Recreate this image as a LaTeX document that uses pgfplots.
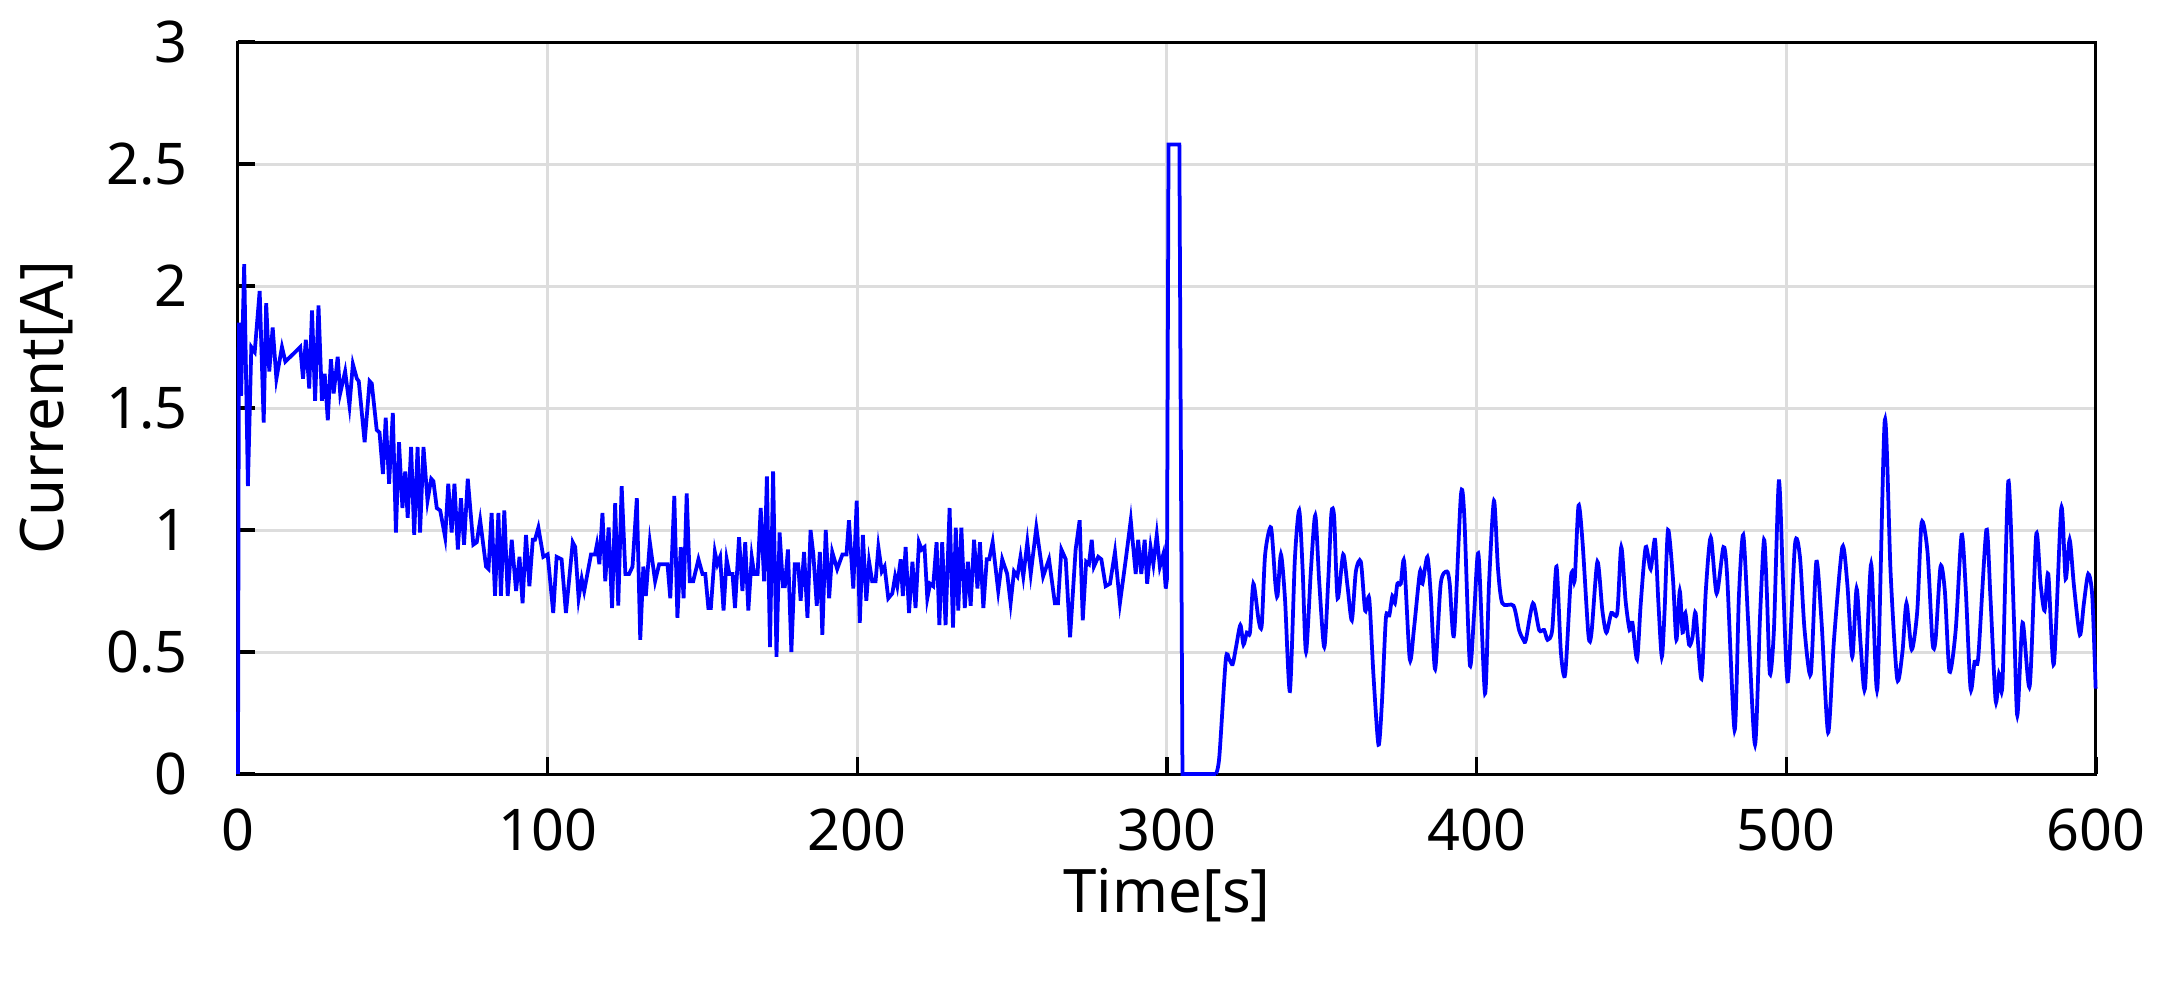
\documentclass[border=0pt]{standalone}
\usepackage{fontspec}
\setmainfont{Noto Sans}
\usepackage{pgfplots}
\pgfplotsset{compat=1.18}
\definecolor{gridgray}{RGB}{221,221,221}
\definecolor{trace}{RGB}{0,0,255}
\begin{document}
\begin{tikzpicture}
\useasboundingbox (-47.6pt,-41.6pt) rectangle (384.4pt,154.8pt);
\begin{axis}[
  scale only axis, width=371.6pt, height=146.4pt,
  xmin=0, xmax=600, ymin=0, ymax=3,
  xtick={0,100,200,300,400,500,600},
  ytick={0,0.5,1,1.5,2,2.5,3},
  tick align=inside, tick pos=left,
  major tick length=3.5pt,
  grid=major,
  major grid style={line width=0.6pt, color=gridgray},
  axis line style={line width=0.6pt},
  major tick style={line width=0.7pt, black},
  /pgf/number format/assume math mode=true,
  tick label style={font=\fontsize{11.5}{13}\selectfont},
  yticklabel style={xshift=-6.6pt},
  xticklabel style={yshift=-3.4pt},
  xlabel={Time[s]}, ylabel={Current[A]},
  every axis x label/.style={at={(axis description cs:0.5,-0.1653)}, anchor=center, font=\fontsize{12}{14}\selectfont},
  every axis y label/.style={at={(axis description cs:-0.1033,0.5)}, anchor=center, rotate=90, font=\fontsize{12}{14}\selectfont},
  clip=false,
]
% first part: raw samples, straight segments
\addplot[trace, line width=0.75pt] table {
0 0
0.3 1.85
1.0 1.55
2.0 2.09
3.2 1.18
4.3 1.75
5.4 1.73
7.0 1.98
8.3 1.44
9.1 1.93
10.1 1.65
11.2 1.83
12.4 1.62
14.2 1.75
15.3 1.69
20.1 1.75
21.0 1.62
21.9 1.78
23.0 1.58
23.9 1.90
24.9 1.53
26.0 1.92
27.1 1.53
28.0 1.64
29.0 1.45
30.0 1.70
30.9 1.56
32.2 1.71
33.0 1.56
34.6 1.65
36.0 1.51
37.1 1.68
38.4 1.62
39.0 1.61
40.9 1.36
42.5 1.61
43.2 1.60
44.8 1.41
45.7 1.40
46.8 1.23
47.7 1.46
48.8 1.19
50.0 1.48
51.0 0.99
52.0 1.36
53.1 1.09
54.0 1.24
54.8 1.05
55.9 1.34
56.9 0.98
58.0 1.34
58.8 0.99
59.9 1.34
61.2 1.12
62.4 1.21
63.1 1.20
64.2 1.09
65.3 1.08
66.9 0.97
67.9 1.19
69.0 0.99
69.9 1.19
71.0 0.92
72.0 1.13
73.0 0.94
74.2 1.21
76.0 0.94
77.1 0.95
78.2 1.04
80.1 0.85
80.9 0.84
81.9 1.07
83.0 0.73
84.1 1.07
84.9 0.73
86.0 1.08
87.1 0.73
88.4 0.96
89.8 0.75
90.9 0.89
91.9 0.70
93.0 0.98
94.1 0.77
95.2 0.96
95.9 0.96
97.0 1.01
98.6 0.89
100.0 0.90
101.8 0.66
102.9 0.89
104.5 0.88
105.9 0.66
108.1 0.95
108.9 0.93
110.0 0.72
111.0 0.80
111.8 0.75
114.0 0.90
115.3 0.90
115.9 0.94
116.7 0.86
117.7 1.07
118.6 0.79
119.7 1.01
120.8 0.68
121.8 1.11
122.8 0.69
123.9 1.18
125.1 0.82
126.3 0.82
127.4 0.85
128.8 1.13
129.9 0.55
130.9 0.85
131.7 0.73
133.0 0.95
134.7 0.79
136.0 0.86
138.7 0.86
139.6 0.72
140.9 1.14
141.9 0.64
143.0 0.93
143.9 0.72
144.9 1.15
145.9 0.79
147.0 0.79
148.7 0.88
150.0 0.82
150.9 0.82
151.9 0.68
152.7 0.68
154.0 0.91
154.8 0.86
155.7 0.89
156.8 0.67
157.8 0.88
158.7 0.82
159.7 0.82
160.5 0.68
161.8 0.97
162.9 0.75
163.8 0.95
164.8 0.67
165.9 0.89
166.7 0.82
167.8 0.82
168.8 1.09
169.9 0.79
170.8 1.22
171.8 0.52
172.8 1.24
173.9 0.48
174.9 0.99
176.0 0.77
176.6 0.77
177.6 0.92
178.7 0.50
179.8 0.86
180.9 0.86
181.7 0.71
182.8 0.91
183.9 0.64
184.9 1.00
185.8 0.90
186.9 0.69
187.9 0.91
188.7 0.57
189.8 1.00
190.9 0.72
191.9 0.91
193.5 0.84
195.2 0.90
196.5 0.90
197.3 1.04
198.7 0.76
199.8 1.12
200.8 0.62
201.8 0.98
202.9 0.71
203.8 0.87
204.8 0.79
205.9 0.79
206.8 0.93
207.9 0.83
208.8 0.85
210.0 0.72
211.3 0.74
212.2 0.81
212.9 0.77
214.0 0.88
214.7 0.73
215.6 0.93
216.7 0.66
217.8 0.87
218.8 0.68
219.9 0.95
220.8 0.92
221.7 0.93
222.6 0.72
223.5 0.78
224.5 0.77
225.6 0.95
226.5 0.61
227.4 0.95
228.5 0.61
229.8 1.09
230.9 0.60
231.8 1.01
232.6 0.67
233.6 1.01
234.7 0.68
235.7 0.87
236.6 0.69
237.7 0.96
238.8 0.76
239.6 0.95
240.7 0.68
241.8 0.88
242.6 0.88
243.7 0.95
245.5 0.75
246.8 0.88
248.4 0.82
249.5 0.70
250.6 0.83
251.7 0.81
252.7 0.89
253.6 0.81
254.9 0.95
256.0 0.82
257.8 1.01
260.0 0.81
261.9 0.88
263.8 0.70
264.8 0.70
265.9 0.92
267.3 0.88
268.7 0.56
270.5 0.92
271.8 1.04
272.8 0.63
273.9 0.87
274.8 0.86
275.7 0.96
276.4 0.85
277.8 0.89
278.8 0.88
280.2 0.77
281.6 0.78
283.2 0.91
284.8 0.70
286.7 0.88
288.3 1.04
289.9 0.82
290.7 0.96
291.7 0.82
292.8 0.96
293.6 0.78
294.7 0.93
295.6 0.86
296.7 0.98
297.7 0.85
298.8 0.90
299.6 0.76
300.0 0.80
300.5 2.58
304.0 2.58
305.0 0
315.8 0
};
% second part: smoother oscillation after the fault
\addplot[trace, line width=0.75pt, smooth, tension=0.45] table {
315.8 0
316.9 0.07
319.0 0.47
320.1 0.47
321.2 0.45
322.3 0.52
323.7 0.61
324.7 0.53
325.8 0.58
326.8 0.58
327.9 0.78
329.6 0.63
330.6 0.61
331.7 0.90
333.6 1.01
335.0 0.78
335.7 0.73
336.8 0.90
338.1 0.72
339.7 0.34
341.3 0.88
342.7 1.08
343.8 0.84
344.9 0.50
346.5 0.84
347.9 1.06
349.2 0.78
350.8 0.52
352.1 0.80
353.1 1.07
354.0 1.05
355.1 0.72
356.9 0.90
358.3 0.77
359.7 0.63
361.0 0.83
362.6 0.87
364.0 0.67
365.3 0.72
366.7 0.40
368.3 0.12
369.4 0.29
370.7 0.64
371.8 0.65
372.8 0.73
373.6 0.70
374.4 0.78
375.5 0.78
376.6 0.87
378.4 0.47
379.8 0.60
381.7 0.83
382.5 0.78
384.1 0.89
385.2 0.73
386.6 0.43
388.4 0.78
390.4 0.83
391.3 0.78
392.7 0.57
394.9 1.14
396.0 1.06
397.8 0.45
399.2 0.66
400.6 0.90
402.7 0.33
404.0 0.78
405.6 1.12
406.9 0.84
408.3 0.70
411.9 0.69
413.7 0.59
415.1 0.55
415.9 0.55
418.2 0.70
420.2 0.59
421.8 0.59
422.9 0.55
424.4 0.59
425.8 0.85
427.2 0.50
428.6 0.41
430.4 0.80
431.2 0.82
431.7 0.80
432.9 1.10
434.2 0.95
436.1 0.57
437.1 0.58
439.0 0.87
440.6 0.67
441.9 0.58
443.5 0.66
445.4 0.66
446.7 0.93
448.1 0.71
449.4 0.59
450.3 0.62
451.8 0.47
453.0 0.70
454.6 0.93
456.2 0.84
457.6 0.96
458.7 0.70
459.8 0.48
460.7 0.67
461.8 1.00
463.4 0.80
464.5 0.55
465.6 0.75
466.5 0.58
467.4 0.66
468.6 0.53
469.7 0.56
470.7 0.66
472.6 0.39
474.0 0.75
475.6 0.97
477.5 0.74
479.7 0.93
480.9 0.81
483.3 0.18
484.7 0.73
486.1 0.98
487.7 0.62
489.9 0.12
491.5 0.64
492.8 0.96
493.7 0.75
494.7 0.41
496.0 0.59
497.6 1.20
499.0 0.77
500.5 0.38
502.8 0.94
504.4 0.89
505.9 0.59
507.9 0.41
509.7 0.87
511.4 0.62
513.5 0.17
515.4 0.55
518.1 0.93
519.7 0.78
521.3 0.48
522.7 0.76
524.0 0.53
525.4 0.35
527.4 0.86
529.4 0.35
531.8 1.45
533.7 0.82
535.8 0.39
537.5 0.50
538.8 0.70
540.5 0.51
542.3 0.67
543.7 1.03
545.6 0.91
547.2 0.54
548.2 0.55
549.8 0.85
551.2 0.75
552.7 0.42
554.7 0.59
556.6 0.98
557.9 0.77
559.5 0.35
560.8 0.46
562.0 0.48
564.6 1.00
565.9 0.73
567.6 0.30
568.7 0.41
569.8 0.37
571.7 1.20
573.5 0.64
574.6 0.24
576.3 0.62
578.6 0.36
580.7 0.98
582.1 0.78
583.4 0.67
584.6 0.82
586.4 0.45
588.8 1.09
590.2 0.80
591.5 0.96
592.9 0.77
594.8 0.57
596.1 0.70
597.5 0.82
598.8 0.73
599.9 0.35
};
\end{axis}
\end{tikzpicture}
\end{document}
